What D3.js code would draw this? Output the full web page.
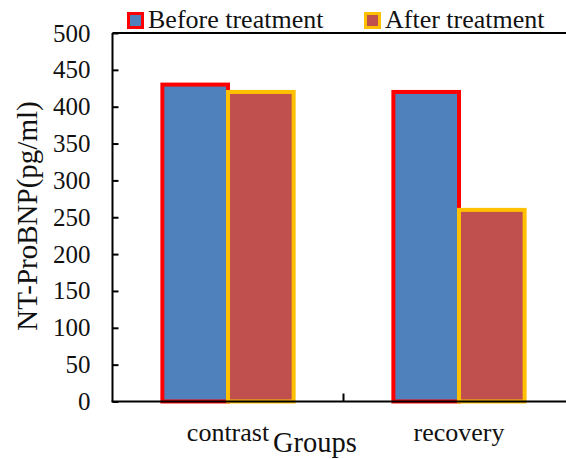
<!DOCTYPE html>
<html>
<head>
<meta charset="utf-8">
<script src="https://cdn.jsdelivr.net/npm/d3@7"></script>
<style>
  html, body { margin: 0; padding: 0; background: #fff; }
  svg { display: block; }
  text { font-family: "Liberation Serif", "Times New Roman", serif; fill: #111; }
</style>
</head>
<body>
<svg id="chart" width="566" height="459"></svg>
<script>
// Data
const groups = ["contrast", "recovery"];
const seriesNames = ["Before treatment", "After treatment"];
const beforeValues = [430, 420];
const afterValues = [420, 260];
const yTicks = [0, 50, 100, 150, 200, 250, 300, 350, 400, 450, 500];

const fills = ["#4f81bd", "#c0504d"];
const strokes = ["#ff0000", "#ffc000"];

const svg = d3.select("#chart");
const W = 566, H = 459;
const x0 = 112.5, x1 = 574.5;
const yTop = 33, yBottom = 401.5;

const x = d3.scaleBand().domain(groups).range([x0, x1]).paddingInner(0).paddingOuter(0);
const xs = d3.scaleBand().domain(seriesNames).range([0, x.bandwidth()]).paddingInner(0).paddingOuter(0.76);
const y = d3.scaleLinear().domain([0, 500]).range([yBottom, yTop]);

const rows = groups.map((g, i) => ({ group: g, values: [beforeValues[i], afterValues[i]] }));

// Bars
const gBars = svg.append("g");
rows.forEach(r => {
  r.values.forEach((v, si) => {
    gBars.append("rect")
      .attr("x", x(r.group) + xs(seriesNames[si]))
      .attr("y", y(v))
      .attr("width", xs.bandwidth())
      .attr("height", y(0) - y(v))
      .attr("fill", fills[si])
      .attr("stroke", strokes[si])
      .attr("stroke-width", 4);
  });
});

// Top frame line
svg.append("line")
  .attr("x1", x0).attr("x2", W)
  .attr("y1", yTop).attr("y2", yTop)
  .attr("stroke", "#000").attr("stroke-width", 2);

// Y axis with inward ticks
const yAxis = d3.axisLeft(y).tickValues(yTicks).tickSize(-6).tickPadding(22);
const gy = svg.append("g").attr("transform", `translate(${x0},0)`).call(yAxis);
gy.select(".domain").attr("stroke", "#000").attr("stroke-width", 2).attr("d", `M0,${yTop}V${yBottom}`);
gy.selectAll(".tick line").attr("stroke", "#000").attr("stroke-width", 2);
gy.selectAll(".tick text").style("font-size", "25px").style("font-family", "Liberation Serif").attr("fill", "#111");

// X axis line and the tick between groups
svg.append("line")
  .attr("x1", x0 - 1).attr("x2", W)
  .attr("y1", yBottom).attr("y2", yBottom)
  .attr("stroke", "#000").attr("stroke-width", 2);
svg.append("line")
  .attr("x1", x(groups[1])).attr("x2", x(groups[1]))
  .attr("y1", yBottom).attr("y2", yBottom - 8)
  .attr("stroke", "#000").attr("stroke-width", 2);

// Category labels
svg.selectAll(".cat").data(groups).enter().append("text")
  .attr("class", "cat")
  .attr("x", d => x(d) + x.bandwidth() / 2)
  .attr("y", 441)
  .attr("text-anchor", "middle")
  .style("font-size", "26px")
  .text(d => d);

// Axis titles
svg.append("text")
  .attr("x", 315).attr("y", 452)
  .attr("text-anchor", "middle")
  .style("font-size", "28.5px")
  .text("Groups");
svg.append("text")
  .attr("transform", `translate(37,216) rotate(-90)`)
  .attr("text-anchor", "middle")
  .style("font-size", "29px")
  .text("NT-ProBNP(pg/ml)");

// Legend
const legendX = [127, 364];
seriesNames.forEach((name, i) => {
  const g = svg.append("g").attr("transform", `translate(${legendX[i]},12)`);
  g.append("rect").attr("x", 1.5).attr("y", 1.5).attr("width", 14).attr("height", 14)
    .attr("fill", fills[i]).attr("stroke", strokes[i]).attr("stroke-width", 3);
  g.append("text").attr("x", 21).attr("y", 16).style("font-size", "26px").text(name);
});
</script>
</body>
</html>
